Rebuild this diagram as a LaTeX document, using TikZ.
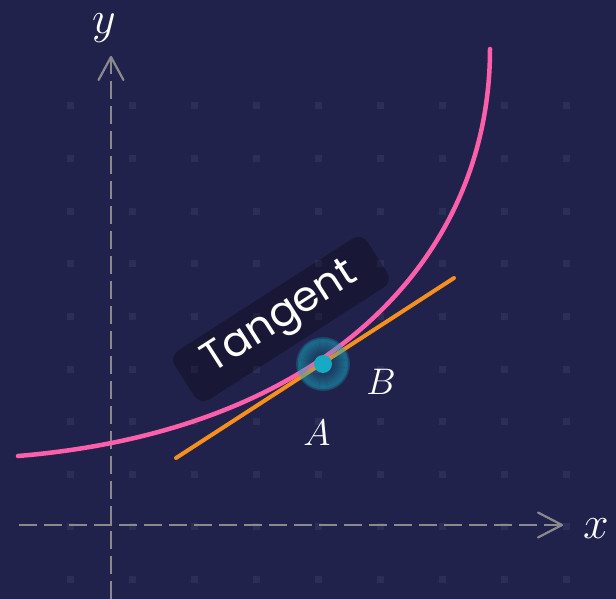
\RequirePackage{fix-cm}
\documentclass[tikz,border=0pt]{standalone}
\usepackage{fontspec}
\newfontfamily\tagfont{Poppins}
\definecolor{bgc}{RGB}{33,34,75}
\definecolor{dotc}{RGB}{45,46,86}
\definecolor{axisgray}{RGB}{138,138,142}
\definecolor{pinkc}{RGB}{255,95,170}
\definecolor{orangec}{RGB}{247,143,28}
\definecolor{cyanc}{RGB}{22,170,196}
\begin{document}
\begin{tikzpicture}[x=1pt,y=-1pt,
  axisline/.style={draw=axisgray, line width=2.2pt, dash pattern=on 18pt off 7pt},
  axishead/.style={draw=axisgray, line width=2.2pt, line cap=round, line join=round},
  gridmark/.style={fill=dotc},
  axislabel/.style={text=white, inner sep=0pt, font=\fontsize{46}{50}\selectfont},
  ptlabel/.style={text=white, inner sep=0pt, font=\fontsize{37}{40}\selectfont},
  tagbox/.style={rectangle, rounded corners=11pt, minimum width=229pt, minimum height=58pt,
    fill=black, fill opacity=0.27, text opacity=1, text=white, rotate=32.7, inner sep=0pt,
    font=\tagfont\fontsize{42}{46}\selectfont},
  curveline/.style={draw=pinkc, line width=4.5pt, line cap=round},
  tanline/.style={draw=orangec, line width=4pt, line cap=round},
  halo/.style={fill=cyanc, even odd rule},
  ptdot/.style={circle, fill=cyanc, minimum size=18pt, inner sep=0pt}
]
\fill[bgc] (0,0) rectangle (616,599);
\useasboundingbox (0,0) rectangle (616,599);
% dot grid
\foreach \i in {0,...,8}{
  \foreach \j in {0,...,9}{
    \fill[gridmark] ({70+62.05*\i-3.5},{106+52.6*\j-3.5}) rectangle ++(7,7);
  }
}
% axes
\coordinate (xs) at (19,525);
\coordinate (xe) at (562,525);
\coordinate (ys) at (111,599);
\coordinate (ye) at (111,57);
\draw[axisline] (xs) -- (xe);
\draw[axisline] (ys) -- (ye);
\draw[axishead] (xe) ++(-24,-12.5) -- (xe) -- ++(-24,12.5);
\draw[axishead] (ye) ++(-12.5,23) -- (ye) -- ++(12.5,23);
\node[axislabel] (ylab) at (104,28) {$y$};
\node[axislabel] (xlab) at (596,529) {$x$};
% tangent label box
\node[tagbox] (tag) at (281,319) {Tangent};
% curve
\coordinate (c0) at (18,456);
\coordinate (c1) at (330,430);
\coordinate (c2) at (490,255);
\coordinate (c3) at (490,49);
\draw[curveline] (c0) .. controls (c1) and (c2) .. (c3);
% tangent line
\coordinate (t0) at (176,458);
\coordinate (t1) at (454,278);
\draw[tanline] (t0) -- (t1);
% point with halo
\coordinate (P) at (323,364);
\foreach \ri/\ro/\op in {9/12/0.2,12/14/0.25,14/16/0.3,16/18/0.36,18/20/0.42,20/22/0.48,22/24/0.53,24/25.5/0.48,25.5/27/0.25}{
  \fill[halo, fill opacity=\op] (P) circle (\ro) circle (\ri);
}
\node[ptdot] (pt) at (P) {};
\node[ptlabel] (lA) at (317,433) {$A$};
\node[ptlabel] (lB) at (381,382) {$B$};
\end{tikzpicture}
\end{document}
